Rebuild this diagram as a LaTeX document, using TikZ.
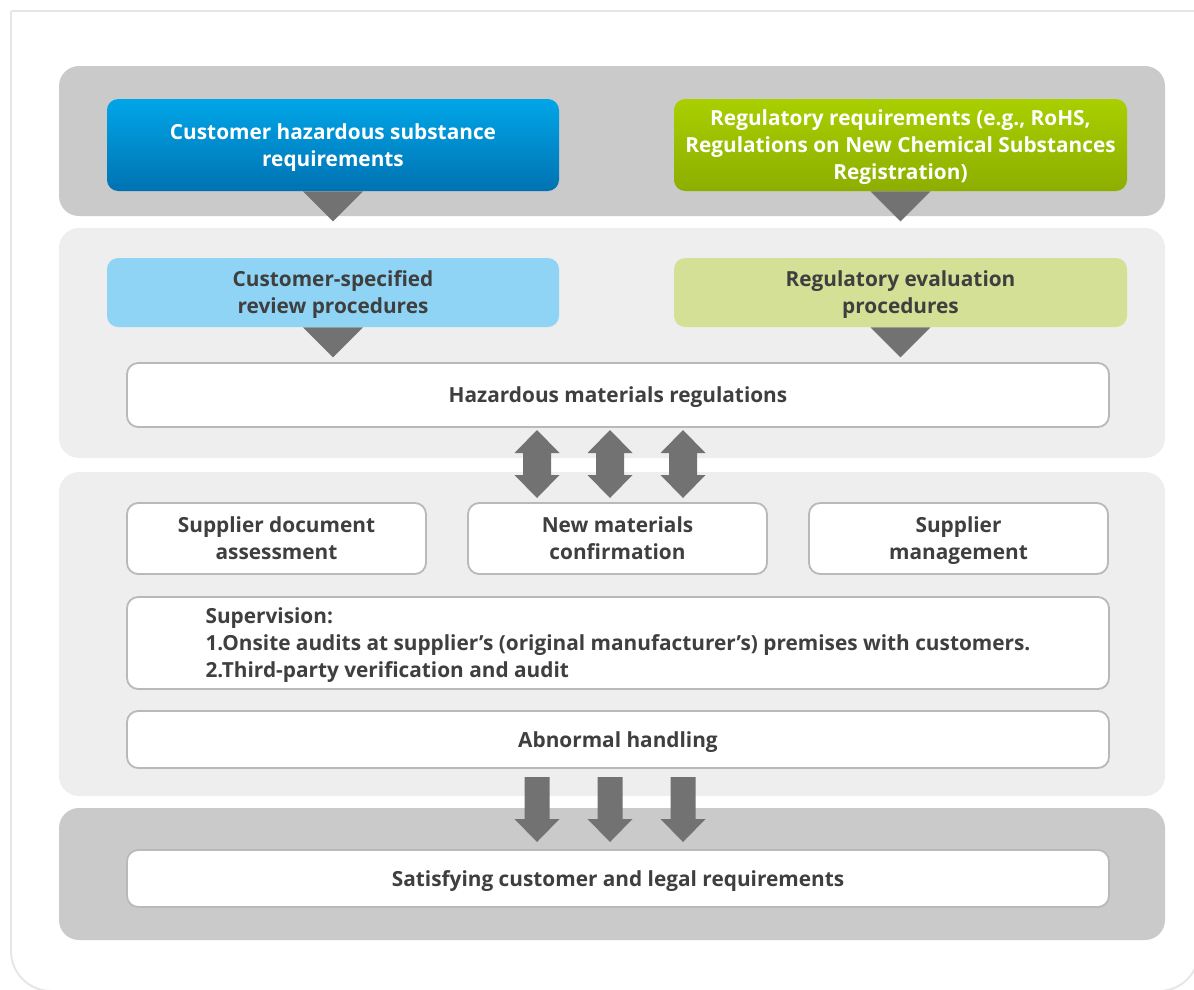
\documentclass[tikz,border=0pt]{standalone}
\usepackage{fontspec}
\setmainfont{Open Sans}
\usetikzlibrary{calc}
\definecolor{bandd}{HTML}{C9CAC9}
\definecolor{bandl}{HTML}{EEEEEE}
\definecolor{bluetop}{HTML}{00A6E8}
\definecolor{bluebot}{HTML}{0072B2}
\definecolor{greentop}{HTML}{A9CF00}
\definecolor{greenbot}{HTML}{8DAE00}
\definecolor{lblue}{HTML}{8FD4F5}
\definecolor{lgreen}{HTML}{D4E096}
\definecolor{arrowg}{HTML}{727272}
\definecolor{edge}{HTML}{B9B9B9}
\definecolor{txt}{HTML}{3F3F3F}
\definecolor{framec}{HTML}{E6E6E6}
\newcommand{\boxfont}{\fontsize{14.8}{19.2}\selectfont\bfseries}

\begin{document}
\begin{tikzpicture}[x=0.025cm,y=-0.025cm,
  pbox/.style 2 args={rounded corners=0.28cm,minimum width=#1*0.025cm,minimum height=#2*0.025cm,
    inner sep=0pt,align=center,font=\boxfont,text=txt,text depth=-1pt},
  wbox/.style={fill=white,draw=edge,line width=1.3pt}]
  \useasboundingbox (0,0) rectangle (1194,989);
  % frame and bands
  \draw[framec,line width=1.4pt,rounded corners=1cm] (11,11) -- (11,991) -- (1199,991) -- (1199,11);
  \draw[framec,line width=1.4pt] (11,11) -- (1194,11);
  \fill[bandd,rounded corners=0.5cm] (59,66) rectangle (1165,216);
  \fill[bandl,rounded corners=0.5cm] (59,228) rectangle (1165,458);
  \fill[bandl,rounded corners=0.5cm] (59,472) rectangle (1165,796);
  \fill[bandd,rounded corners=0.5cm] (59,808) rectangle (1165,940);
  % sources
  \node[pbox={452}{92},top color=bluetop,bottom color=bluebot,text=white] (cust) at (333,145)
    {Customer hazardous substance\\requirements};
  \node[pbox={453}{92},top color=greentop,bottom color=greenbot,text=white] (regl) at (900.5,145)
    {Regulatory requirements (e.g., RoHS,\\Regulations on New Chemical Substances\\Registration)};
  \node[pbox={452}{69},fill=lblue] (custrev) at (333,292.5) {Customer-specified\\review procedures};
  \node[pbox={453}{69},fill=lgreen] (regev) at (900.5,292.5) {Regulatory evaluation\\procedures};
  \foreach \n in {cust,regl,custrev,regev}
    \fill[arrowg] ($(\n.south)+(-30,0)$) -- ($(\n.south)+(30,0)$) -- ($(\n.south)+(0,30)$) -- cycle;
  \node[pbox={982}{64},wbox] (hzr) at (618,395) {Hazardous materials regulations};
  % controls
  \node[pbox={299}{71},wbox] (docas) at (276.5,538.5) {Supplier document\\assessment};
  \node[pbox={299}{71},wbox] (newmat) at (617.5,538.5) {New materials\\confirmation};
  \node[pbox={299}{71},wbox] (supmgt) at (958.5,538.5) {Supplier\\management};
  \node[pbox={982}{92},wbox,align=left] (superv) at (618,643)
    {Supervision:\\1.Onsite audits at supplier’s (original manufacturer’s) premises with customers.\\2.Third-party verification and audit};
  \node[pbox={982}{57},wbox] (abn) at (618,739.5) {Abnormal handling};
  \node[pbox={982}{57},wbox] (satis) at (618,878.5) {Satisfying customer and legal requirements};
  % block arrows
  \foreach \cx in {537,610,683}{
    \fill[arrowg] (\cx-14,453) -- (\cx-22.5,453) -- (\cx,430) -- (\cx+22.5,453) -- (\cx+14,453)
      -- (\cx+14,475) -- (\cx+22.5,475) -- (\cx,498) -- (\cx-22.5,475) -- (\cx-14,475) -- cycle;
    \fill[arrowg] (\cx-12.5,777) -- (\cx+12.5,777) -- (\cx+12.5,819) -- (\cx+22.5,819)
      -- (\cx,842) -- (\cx-22.5,819) -- (\cx-12.5,819) -- cycle;
  }
\end{tikzpicture}
\end{document}
